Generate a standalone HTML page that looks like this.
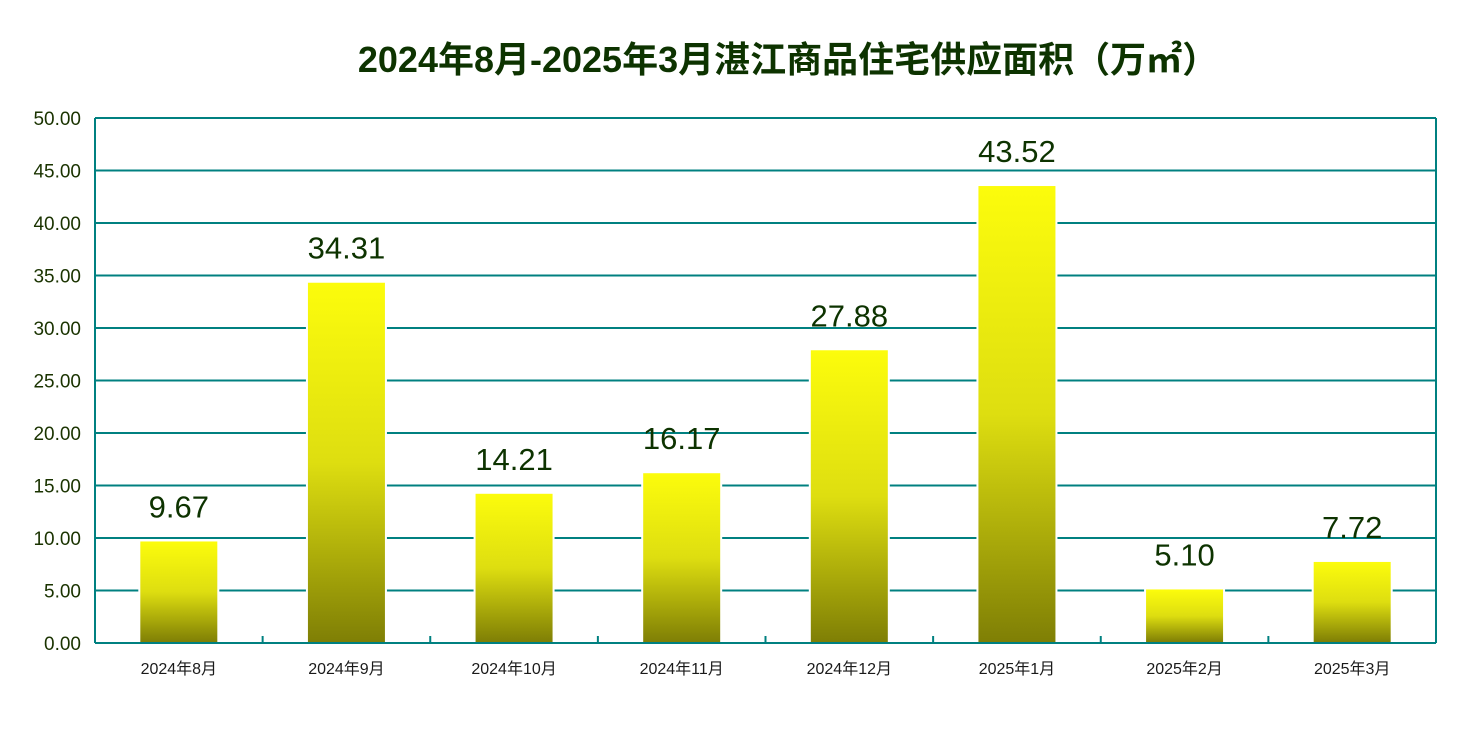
<!DOCTYPE html>
<html><head><meta charset="utf-8"><style>
html,body{margin:0;padding:0;background:#fff;}
svg{display:block;font-family:"Liberation Sans","Noto Sans CJK SC",sans-serif;}
</style></head><body>
<svg id="chart" width="1464" height="747" xmlns="http://www.w3.org/2000/svg">
<defs><linearGradient id="g" x1="0" y1="0" x2="0" y2="1"><stop offset="0" stop-color="#fcfc0c"/><stop offset="0.5" stop-color="#dede10"/><stop offset="1" stop-color="#7f7f05"/></linearGradient></defs>
<text x="788" y="72" text-anchor="middle" font-size="36" font-weight="bold" fill="#0d3300">2024年8月-2025年3月湛江商品住宅供应面积（万㎡）</text>
</svg>
<script>
const categories=["2024年8月","2024年9月","2024年10月","2024年11月","2024年12月","2025年1月","2025年2月","2025年3月"];
const values=[9.67,34.31,14.21,16.17,27.88,43.52,5.10,7.72];
const yTicks=[0,5,10,15,20,25,30,35,40,45,50];
const svg=document.getElementById('chart');const NS="http://www.w3.org/2000/svg";
const L=95,R=1436,T=118,B=643,yMax=50;
const y=v=>B-(v/yMax)*(B-T);
const bw=(R-L)/categories.length;
const x=i=>L+bw*i+bw/2;
function mk(t,a,p){const e=document.createElementNS(NS,t);for(const k in a)e.setAttribute(k,a[k]);(p||svg).appendChild(e);return e;}
yTicks.forEach(v=>{
 const l=mk('line',{x1:L,x2:R,y1:y(v),y2:y(v),stroke:'#008080','stroke-width':2});
 
 
 const t=mk('text',{x:L-14,y:y(v)+7,'text-anchor':'end','font-size':19,fill:'#1a3300'});t.textContent=v.toFixed(2);
 
 
});
const ax=mk('line',{x1:L,x2:L,y1:T,y2:B,stroke:'#008080','stroke-width':2});


const ax2=mk('line',{x1:R,x2:R,y1:T,y2:B,stroke:'#008080','stroke-width':2});


for(let i=1;i<categories.length;i++){
 const tk=mk('line',{x1:L+bw*i,x2:L+bw*i,y1:B-7,y2:B,stroke:'#008080','stroke-width':2});
 
 
}
categories.forEach((c,i)=>{
 const w=77,top=y(values[i]);
 mk('rect',{x:x(i)-w/2-2,y:top-1,width:w+4,height:B-top,fill:'#fff'});
 const r=mk('rect',{x:x(i)-w/2,y:top,width:w,height:B-top-1,fill:'url(#g)'});
 
 
 const v=mk('text',{x:x(i),y:top-24,'text-anchor':'middle','font-size':31,fill:'#0d3300'});v.textContent=values[i].toFixed(2);
 
 
 const t=mk('text',{x:x(i),y:B+31,'text-anchor':'middle','font-size':16,fill:'#1a1a1a'});t.textContent=c;
 
 
});
</script>
</body></html>
